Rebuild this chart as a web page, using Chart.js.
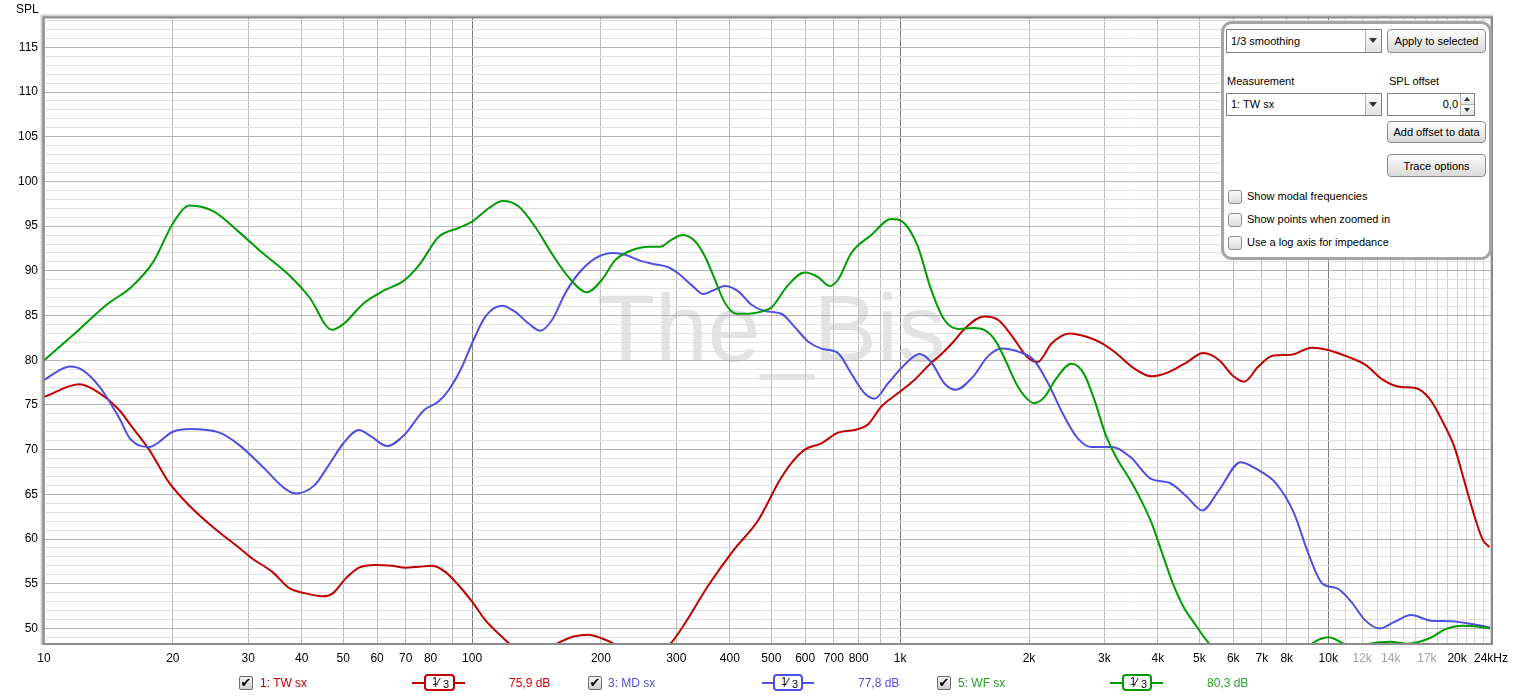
<!DOCTYPE html>
<html>
<head>
<meta charset="utf-8">
<script src="https://cdn.jsdelivr.net/npm/chart.js@4.4.1/dist/chart.umd.min.js"></script>
<style>
  html, body { margin:0; padding:0; background:#fff; width:1516px; height:697px; overflow:hidden; font-family:"Liberation Sans", Arial, sans-serif; }
  #c { position:absolute; left:0; top:0; }
  .abs { position:absolute; white-space:nowrap; }
  .t11 { font-size:11px; color:#000; }
  .t12 { font-size:12px; }
  .combo { position:absolute; background:#fff; border:1px solid #7f7f7f; box-sizing:border-box; font-size:11px; line-height:23px; padding-left:4px; }
  .combo .arr { position:absolute; right:0; top:0; bottom:0; width:15px; border-left:1px solid #b0b0b0; background:linear-gradient(#fdfdfd,#e2e2e2); }
  .combo .arr:after { content:""; position:absolute; left:3px; top:8px; border-left:4px solid transparent; border-right:4px solid transparent; border-top:5px solid #333; }
  .btn { position:absolute; box-sizing:border-box; border:1px solid #8a8a8a; border-radius:4px; background:linear-gradient(#fefefe,#d9d9d9); font-size:11px; text-align:center; }
  .cbx { position:absolute; width:14px; height:14px; box-sizing:border-box; border:1px solid #8c8c8c; border-radius:3px; background:linear-gradient(#fafafa,#dcdcdc); }
  .lcb { position:absolute; width:14px; height:14px; box-sizing:border-box; border:1px solid #6e6e6e; border-radius:2px; background:linear-gradient(#f4f4f4,#cfcfcf); font-size:13px; line-height:12px; text-align:center; color:#000; font-family:"DejaVu Sans", sans-serif; font-weight:bold; }
  .lline { position:absolute; height:2px; }
  .lbox { position:absolute; box-sizing:border-box; height:17px; border:2px solid; border-radius:4px; background:#fff; color:#000; }
  .lbox .n { position:absolute; left:6px; top:-1px; font-size:11px; }
  .lbox .sl { position:absolute; left:11px; top:-1px; font-size:13px; }
  .lbox .d { position:absolute; left:17px; top:2px; font-size:11px; }
</style>
</head>
<body>
<canvas id="c" width="1516" height="697"></canvas>

<div class="abs t12" style="left:16px; top:2px; color:#000;">SPL</div>

<!-- control panel -->
<div class="abs" style="left:1221px; top:21px; width:271px; height:239px; box-sizing:border-box; border:3px solid #a4a4a4; border-radius:11px; background:#fff;"></div>
<div class="combo" style="left:1226px; top:29px; width:156px; height:24px;">1/3 smoothing<div class="arr"></div></div>
<div class="btn" style="left:1387px; top:29px; width:99px; height:24px; line-height:23px;">Apply to selected</div>
<div class="abs t11" style="left:1227px; top:75px;">Measurement</div>
<div class="abs t11" style="left:1389px; top:75px;">SPL offset</div>
<div class="combo" style="left:1226px; top:93px; width:156px; height:23px; line-height:21px;">1: TW sx<div class="arr"></div></div>
<div class="combo" style="left:1387px; top:93px; width:88px; height:23px; line-height:21px; text-align:right; padding-right:16px;">0,0
  <div style="position:absolute; right:0; top:0; width:13px; height:10px; border-left:1px solid #b0b0b0; border-bottom:1px solid #b0b0b0; background:linear-gradient(#fdfdfd,#e2e2e2);"><div style="position:absolute; left:3px; top:3px; border-left:3px solid transparent; border-right:3px solid transparent; border-bottom:4px solid #333;"></div></div>
  <div style="position:absolute; right:0; bottom:0; width:13px; height:10px; border-left:1px solid #b0b0b0; background:linear-gradient(#fdfdfd,#e2e2e2);"><div style="position:absolute; left:3px; top:3px; border-left:3px solid transparent; border-right:3px solid transparent; border-top:4px solid #333;"></div></div>
</div>
<div class="btn" style="left:1387px; top:121px; width:99px; height:22px; line-height:21px;">Add offset to data</div>
<div class="btn" style="left:1387px; top:154px; width:99px; height:23px; line-height:22px;">Trace options</div>
<div class="cbx" style="left:1228px; top:190px;"></div>
<div class="abs t11" style="left:1247px; top:190px;">Show modal frequencies</div>
<div class="cbx" style="left:1228px; top:213px;"></div>
<div class="abs t11" style="left:1247px; top:213px;">Show points when zoomed in</div>
<div class="cbx" style="left:1228px; top:236px;"></div>
<div class="abs t11" style="left:1247px; top:236px;">Use a log axis for impedance</div>

<!-- legend row -->
<div class="lcb" style="left:239px; top:676px;">✔</div>
<div class="abs t12" style="left:260px; top:676px; color:#c00000;">1: TW sx</div>
<div class="lline" style="left:412px; top:682px; width:53px; background:#c00000;"></div>
<div class="lbox" style="left:424px; top:674px; width:31px; border-color:#c00000;"><span class="n">1</span><span class="sl">⁄</span><span class="d">3</span></div>
<div class="abs t12" style="left:509px; top:676px; color:#d00000;">75,9 dB</div>

<div class="lcb" style="left:588px; top:676px;">✔</div>
<div class="abs t12" style="left:608px; top:676px; color:#5050e0;">3: MD sx</div>
<div class="lline" style="left:762px; top:682px; width:52px; background:#5050e0;"></div>
<div class="lbox" style="left:773px; top:674px; width:30px; border-color:#5050e0;"><span class="n">1</span><span class="sl">⁄</span><span class="d">3</span></div>
<div class="abs t12" style="left:858px; top:676px; color:#5050e0;">77,8 dB</div>

<div class="lcb" style="left:937px; top:676px;">✔</div>
<div class="abs t12" style="left:958px; top:676px; color:#22a022;">5: WF sx</div>
<div class="lline" style="left:1110px; top:682px; width:53px; background:#009c00;"></div>
<div class="lbox" style="left:1122px; top:674px; width:30px; border-color:#009c00;"><span class="n">1</span><span class="sl">⁄</span><span class="d">3</span></div>
<div class="abs t12" style="left:1207px; top:676px; color:#22a822;">80,3 dB</div>

<script>
// ---------------- DATA ----------------
const twFreq = [10,12.1,13.5,15,15.9,17.6,19.6,21.9,25,28.6,30.7,34.2,37.4,40.2,44.7,47.2,50.7,54.4,59.5,65.1,69.9,75.1,80.7,86.7,93.1,100,107.5,115.4,128.5,143,159.3,172.6,187.1,200.6,213.9,244.7,290.5,311.6,356.3,407.4,465.9,523.5,557.1,598.7,654.6,715.9,782.9,840.8,903,987.6,1080,1181,1224,1322,1427,1570,1696,1831,1977,2094,2260,2488,2737,2955,3192,3514,3866,4254,4682,5105,5563,6006,6360,6868,7415,8161,9158,9883,11090,12205,13430,14780,15960,17240,18610,19710,20870,22110,22970,23780];
const twSpl  = [75.9,77.3,76.3,74.4,72.8,70.0,66.3,63.7,61.2,59.0,57.8,56.3,54.5,54.0,53.6,53.9,55.6,56.8,57.1,57.0,56.8,56.9,57.0,56.3,54.8,53.0,50.9,49.4,47.5,47.0,48.4,49.1,49.3,48.9,48.3,46.5,48.3,50.3,54.8,58.7,62.1,66.6,68.5,70.0,70.7,71.9,72.2,72.8,74.8,76.3,77.8,79.7,80.3,81.9,83.7,84.9,84.5,82.6,80.4,79.8,81.9,83.0,82.6,81.9,80.8,79.1,78.2,78.7,79.8,80.8,80.0,78.2,77.6,79.3,80.5,80.6,81.4,81.2,80.4,79.5,77.8,77.0,76.9,75.7,72.9,70.3,66.2,62.1,59.9,59.1];

const mdFreq = [10,11.5,12.3,13.5,15,15.9,17.6,20,21.9,25.7,28.6,32.7,36.4,38.8,42.8,46.3,50.2,54.4,58,63.3,69.3,77.2,83.6,88.3,94.8,100,107.5,117.5,126.2,135.6,144.3,153.7,165.1,177.3,193.9,213.9,227.9,244.7,262.8,287.4,303.3,325.7,346.8,369.3,389.7,418.5,449.4,483,528,567.4,609.3,654.6,715.9,769,826,871.5,936,1024,1110,1181,1269,1348,1483,1601,1729,1903,2054,2218,2394,2585,2791,3130,3446,3866,4254,4682,5076,5563,6242,6868,7559,8318,8982,9699,10471,11310,12205,13180,14230,15650,17240,19330,21680,23870];
const mdSpl  = [77.8,79.3,78.9,77.0,73.5,71.2,70.3,72.0,72.3,71.9,70.5,67.9,65.7,65.1,66.0,68.3,70.8,72.2,71.5,70.4,71.6,74.4,75.4,76.7,79.3,81.9,84.9,86.1,85.4,84.1,83.3,84.5,87.5,89.7,91.4,92.0,91.8,91.2,90.8,90.4,89.7,88.4,87.4,87.9,88.3,87.7,86.2,85.5,85.2,83.7,82.1,81.3,80.8,78.5,76.3,75.7,77.4,79.5,80.7,79.8,77.4,76.7,78.2,80.4,81.3,80.9,80.0,77.4,74.1,71.4,70.3,70.3,69.2,66.7,66.3,64.7,63.2,65.5,68.6,67.7,66.2,62.9,58.4,55.0,54.5,53.0,50.9,50.0,50.7,51.5,50.9,50.8,50.5,50.1];

const wfFreq = [10,12,14,16,18,20,21.9,25,28.6,32.2,37.4,41.6,47.1,50.2,55.9,62.3,69.3,75.1,83.6,93.1,100,109.4,118,128.5,140.5,153.7,168,185.4,201,216,236,258.2,275,292.6,310.4,331.7,350,369.3,389.7,414.7,441.6,478.6,500.4,547.3,598.7,643,684.6,715.9,769,855.8,953,1024,1100,1181,1269,1373,1483,1570,1663,1762,1866,1977,2054,2175,2304,2512,2686,2845,3013,3192,3446,3650,3866,4094,4337,4592,4864,5252,7000,9166,10016,10880,11540,12180,13960,15340,17240,18960,20480,22540,23870];
const wfSpl  = [80.0,83.3,86.2,88.2,91.0,95.3,97.3,96.6,94.3,92.1,89.5,87.1,83.4,84.1,86.4,87.8,88.9,90.6,93.8,94.8,95.5,97.0,97.8,97.2,94.9,91.9,89.3,87.6,89.0,91.2,92.3,92.7,92.7,93.5,94.0,93.3,91.6,89.0,86.4,85.2,85.2,85.5,85.9,88.4,89.8,89.3,88.3,89.0,92.0,94.0,95.8,95.3,92.7,87.9,84.5,83.5,83.6,83.4,82.3,80.0,77.4,75.7,75.2,75.9,77.8,79.6,78.5,75.5,71.8,69.2,66.6,64.4,61.8,58.4,55.0,52.4,50.6,48.4,43.0,48.3,49.0,48.3,47.9,48.2,48.5,48.3,48.9,50.0,50.3,50.2,50.0];

// axis ticks
const yTickLabels = [50,55,60,65,70,75,80,85,90,95,100,105,110,115];
const xGridValues = [10,20,30,40,50,60,70,80,90,100,200,300,400,500,600,700,800,900,1000,2000,3000,4000,5000,6000,7000,8000,9000,10000,11000,12000,13000,14000,15000,16000,17000,18000,19000,20000,21000,22000,23000,24000];
const xLabelValues = [10,20,30,40,50,60,70,80,100,200,300,400,500,600,700,800,1000,2000,3000,4000,5000,6000,7000,8000,10000,12000,14000,17000,20000,24000];
const xLabelTexts  = ['10','20','30','40','50','60','70','80','100','200','300','400','500','600','700','800','1k','2k','3k','4k','5k','6k','7k','8k','10k','12k','14k','17k','20k','24kHz'];
const xGrayLabels  = [12000,14000,17000];
const xDecadeLines = [100,1000,10000];

// ---------------- CHART ----------------
const RED = 'rgb(192,0,0)', BLUE = 'rgb(80,80,224)', GREEN = 'rgb(0,156,0)';
function pts(f, s) { return f.map((x, i) => ({ x: x, y: s[i] })); }
const FONT = { family: '"Liberation Sans", Arial, sans-serif', size: 12 };

const bgPlugin = {
  id: 'bg',
  beforeDraw(chart) {
    const { ctx, chartArea: a } = chart;
    ctx.save();
    ctx.fillStyle = '#fff';
    ctx.fillRect(0, 0, chart.width, chart.height);
    ctx.beginPath(); ctx.rect(a.left, a.top, a.right - a.left, a.bottom - a.top); ctx.clip();
    ctx.fillStyle = 'rgb(227,227,227)';
    ctx.font = '95px "Liberation Sans", Arial, sans-serif';
    ctx.textBaseline = 'alphabetic';
    ctx.fillText('The_Bis', 597, 361);
    ctx.restore();
  },
  afterDraw(chart) {
    const { ctx, chartArea: a } = chart;
    ctx.save();
    const sh = ['#e6e6e6', '#d2d2d2', '#bcbcbc'];
    for (let i = 0; i < 3; i++) {
      ctx.strokeStyle = sh[i]; ctx.lineWidth = 1;
      ctx.beginPath();
      ctx.moveTo(a.left - 3.5 + i, a.bottom + 2);
      ctx.lineTo(a.left - 3.5 + i, a.top - 3.5 + i);
      ctx.lineTo(a.right + 2, a.top - 3.5 + i);
      ctx.stroke();
    }
    ctx.strokeStyle = '#8c8c8c'; ctx.lineWidth = 2;
    ctx.strokeRect(a.left - 0.5, a.top - 0.5, a.right - a.left + 1.5, a.bottom - a.top + 1.5);
    ctx.restore();
  }
};

new Chart(document.getElementById('c'), {
  type: 'line',
  data: {
    datasets: [
      { label: '5: WF sx', data: pts(wfFreq, wfSpl), borderColor: GREEN },
      { label: '3: MD sx', data: pts(mdFreq, mdSpl), borderColor: BLUE },
      { label: '1: TW sx', data: pts(twFreq, twSpl), borderColor: RED }
    ].map(d => Object.assign(d, { borderWidth: 2, pointRadius: 0, fill: false, cubicInterpolationMode: 'monotone' }))
  },
  options: {
    responsive: false,
    animation: false,
    devicePixelRatio: 1,
    layout: { padding: { top: 18, right: 22, bottom: 0, left: 0 } },
    plugins: { legend: { display: false }, tooltip: { enabled: false } },
    scales: {
      x: {
        type: 'logarithmic',
        min: 10, max: 24000,
        afterFit(s) { s.height = 54; },
        afterBuildTicks(s) { s.ticks = xGridValues.map(v => ({ value: v })); },
        border: { display: false },
        grid: {
          drawTicks: false,
          lineWidth: 1,
          color: (c) => {
            const v = c.tick ? c.tick.value : 0;
            if (xDecadeLines.includes(v)) return '#7c7c7c';
            if (v > 10000) return '#d2d2d2';
            return '#bebebe';
          }
        },
        ticks: {
          autoSkip: false, maxRotation: 0, minRotation: 0, padding: 8,
          font: FONT,
          color: (c) => (c.tick && xGrayLabels.includes(c.tick.value)) ? '#a0a0a0' : '#000',
          callback: (v) => { const i = xLabelValues.indexOf(v); return i >= 0 ? xLabelTexts[i] : ''; }
        }
      },
      y: {
        type: 'linear',
        min: 48.37, max: 118.28,
        afterFit(s) { s.width = 44; },
        afterBuildTicks(s) { const t = []; for (let v = 49; v <= 118; v++) t.push({ value: v }); s.ticks = t; },
        border: { display: false },
        grid: {
          drawTicks: false,
          lineWidth: 1,
          color: (c) => (c.tick && c.tick.value % 5 === 0) ? '#b4b4b4' : '#e0e0e0'
        },
        ticks: {
          autoSkip: false, padding: 6, font: FONT, color: '#000',
          callback: (v) => yTickLabels.includes(v) ? String(v) : ''
        }
      }
    }
  },
  plugins: [bgPlugin]
});
</script>
</body>
</html>
